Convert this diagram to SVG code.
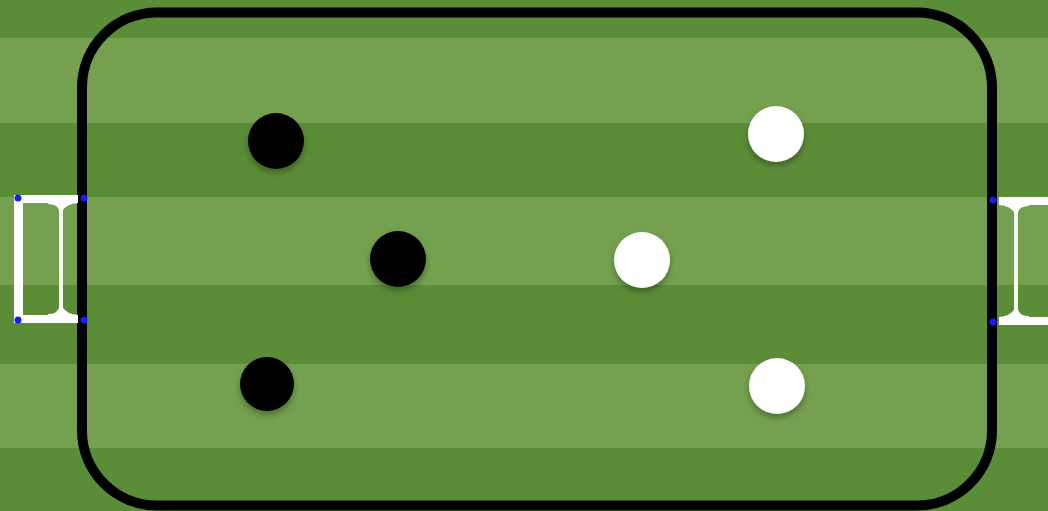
<svg xmlns="http://www.w3.org/2000/svg" width="1048" height="511" viewBox="0 0 1048 511">
  <defs>
    <filter id="sh" x="-50%" y="-50%" width="200%" height="200%">
      <feDropShadow dx="0" dy="4" stdDeviation="3" flood-color="#000" flood-opacity="0.3"/>
    </filter>
    <g id="goal">
      <rect x="14" y="195" width="64" height="8" fill="#fff"/>
      <rect x="14" y="315" width="64" height="8" fill="#fff"/>
      <rect x="14" y="195" width="9" height="128" fill="#fff"/>
      <rect x="59" y="205" width="4" height="108" fill="#f4f8ee"/>
      <path d="M48,203 Q58,203 60,210 L62,210 Q66,203 78,202" fill="#fff" stroke="#fff" stroke-width="2"/>
      <path d="M48,315 Q58,315 60,308 L62,308 Q66,315 78,316" fill="#fff" stroke="#fff" stroke-width="2"/>
      <circle cx="18" cy="198" r="3.5" fill="#1a1aff"/>
      <circle cx="84" cy="198" r="3.5" fill="#1a1aff"/>
      <circle cx="18" cy="320" r="3.5" fill="#1a1aff"/>
      <circle cx="84" cy="320" r="3.5" fill="#1a1aff"/>
    </g>
  </defs>
  <style>
    .dark { fill: #5b8c37; }
    .light { fill: #74a04f; }
    .black { fill: #000; filter: url(#sh); }
    .white { fill: #fff; filter: url(#sh); }
  </style>
  <g id="pitch">
    <rect x="0" y="0" width="1048" height="511" class="dark"/>
    <rect x="0" y="38" width="1048" height="85" class="light"/>
    <rect x="0" y="197" width="1048" height="88" class="light"/>
    <rect x="0" y="364" width="1048" height="84" class="light"/>
  </g>
  <g id="boundary">
    <rect x="82" y="12.5" width="910" height="493" rx="75" ry="75" fill="none" stroke="#000" stroke-width="10"/>
  </g>
  <g id="goal-left">
    <use href="#goal"/>
  </g>
  <g id="goal-right">
    <use href="#goal" transform="translate(1077,2) scale(-1,1)"/>
  </g>
  <g id="black-1"><circle cx="276" cy="141" r="28" class="black"/></g>
  <g id="black-2"><circle cx="398" cy="259" r="28" class="black"/></g>
  <g id="black-3"><circle cx="267" cy="384" r="27" class="black"/></g>
  <g id="white-1"><circle cx="776" cy="134" r="28" class="white"/></g>
  <g id="white-2"><circle cx="642" cy="260" r="28" class="white"/></g>
  <g id="white-3"><circle cx="777" cy="386" r="28" class="white"/></g>
  <g id="connectors"/>
</svg>
